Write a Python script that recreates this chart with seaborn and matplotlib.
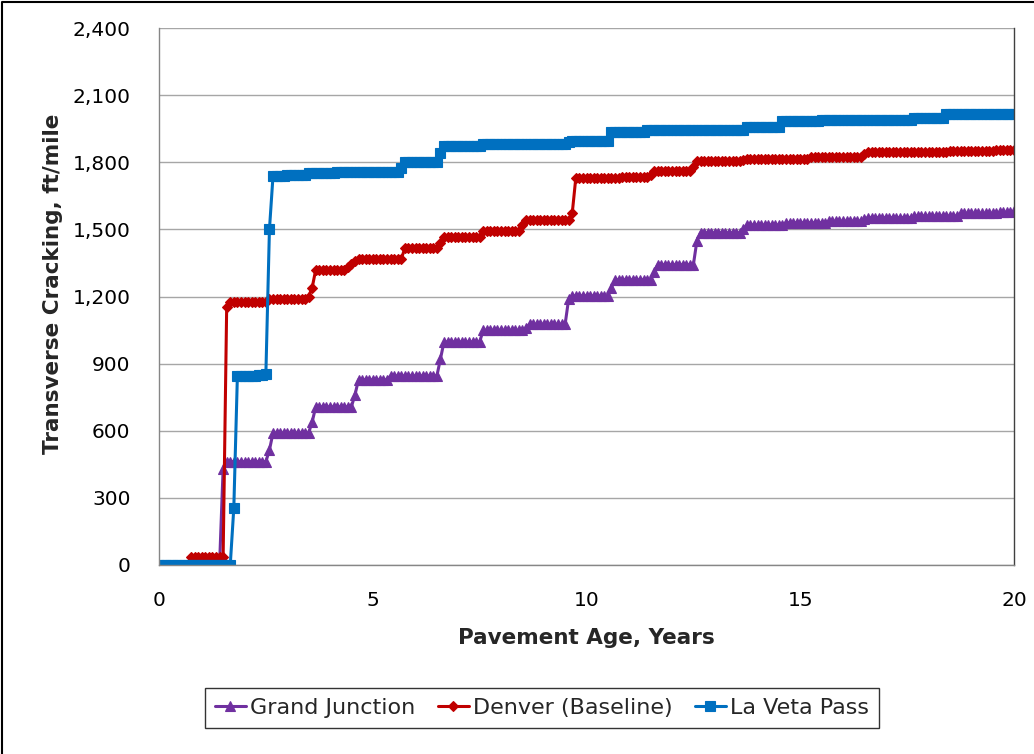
import numpy as np
import pandas as pd
import matplotlib
matplotlib.use("Agg")
import matplotlib.pyplot as plt
import seaborn as sns
from matplotlib.lines import Line2D
from matplotlib.ticker import FuncFormatter

# monthly predictions, 0-20 years; each series is written as
# (month where a level starts, level in ft/mile)
gj_start = [0, 18, 19, 31, 32, 43, 44, 55, 56, 65, 79, 80, 91, 103, 104, 115, 116,
            127, 128, 139, 140, 151, 152, 164, 165, 176, 188, 198, 199, 212, 225, 236, 240]
gj_value = [0, 430, 462, 514, 590, 640, 707, 760, 828, 845, 920, 997, 1049, 1060, 1076,
            1190, 1203, 1240, 1275, 1310, 1342, 1450, 1485, 1500, 1520, 1530, 1537, 1545,
            1553, 1560, 1572, 1576, 1580]

den_start = [0, 9, 19, 20, 31, 42, 43, 44, 53, 54, 55, 56, 69, 79, 80, 91, 102, 103, 116,
             117, 130, 138, 139, 150, 151, 164, 165, 183, 198, 199, 222, 235]
den_value = [0, 35, 1155, 1177, 1188, 1200, 1240, 1320, 1330, 1345, 1360, 1368, 1415, 1440,
             1467, 1494, 1520, 1542, 1573, 1730, 1735, 1745, 1760, 1780, 1804, 1812, 1815,
             1822, 1835, 1845, 1850, 1855]

lvp_start = [0, 21, 22, 28, 30, 31, 32, 36, 42, 50, 68, 69, 79, 80, 91, 115, 116, 127, 137,
             165, 175, 186, 212, 221]
lvp_value = [0, 255, 843, 848, 855, 1500, 1738, 1745, 1752, 1755, 1775, 1800, 1840, 1871,
             1882, 1890, 1897, 1937, 1944, 1956, 1983, 1989, 1996, 2016]

series_names = ["Grand Junction", "Denver (Baseline)", "La Veta Pass"]
colors = ["#7030A0", "#C00000", "#0070C0"]
markers = ["^", "D", "s"]
msizes = [7.0, 5.5, 7.0]

n_months = 241


def expand(starts, values):
    counts = np.diff(starts + [n_months])
    return np.repeat(values, counts)


frames = []
for name, st, vals in zip(series_names, [gj_start, den_start, lvp_start],
                          [gj_value, den_value, lvp_value]):
    frames.append(pd.DataFrame({"age": np.arange(n_months) / 12.0,
                                "crack": expand(st, vals),
                                "site": name}))
df = pd.concat(frames, ignore_index=True)

sns.set_style("white")
plt.rcParams["font.family"] = ["DejaVu Sans"]

fig = plt.figure(figsize=(10.34, 7.54), dpi=100)
ax = fig.add_axes([159 / 1034, 1 - 565 / 754, 855 / 1034, 537 / 754])

for name, c, m, ms in zip(series_names, colors, markers, msizes):
    sns.lineplot(data=df[df["site"] == name], x="age", y="crack", ax=ax,
                 color=c, marker=m, markersize=ms, markeredgewidth=0.8,
                 markeredgecolor=c, linewidth=2.2, label=name, legend=False)

ax.set_xlim(0, 20)
ax.set_ylim(0, 2400)
ax.set_xticks([0, 5, 10, 15, 20])
ax.set_yticks(np.arange(0, 2401, 300))
ax.yaxis.set_major_formatter(FuncFormatter(lambda v, p: f"{int(v):,}"))
ax.grid(axis="y", color="#A6A6A6", linewidth=1.0)
ax.set_axisbelow(True)

for s in ["left", "bottom"]:
    ax.spines[s].set_color("#868686")
    ax.spines[s].set_linewidth(1.0)
ax.spines["top"].set_visible(False)
ax.spines["right"].set_color("#404040")
ax.spines["right"].set_linewidth(1.0)

ax.tick_params(axis="both", direction="out", length=4.5, width=1, color="#868686",
               labelsize=14.5, labelcolor="black")
ax.tick_params(axis="y", pad=16)
ax.tick_params(axis="x", pad=14)

ax.set_xlabel("Pavement Age, Years", fontsize=15.5, fontweight="bold")
ax.set_ylabel("Transverse Cracking, ft/mile", fontsize=15.5, fontweight="bold")
ax.xaxis.set_label_coords(0.5, -0.118)
ax.yaxis.set_label_coords(-0.112, 0.524)

handles, labels = ax.get_legend_handles_labels()
leg = fig.legend(handles, labels, loc="center", bbox_to_anchor=(542 / 1034, 1 - 708 / 754),
                 ncol=3, frameon=True, fancybox=False, fontsize=16, handlelength=1.4,
                 handletextpad=0.2, columnspacing=1.0, borderpad=0.45)
leg.get_frame().set_edgecolor("black")
leg.get_frame().set_linewidth(1.0)

# outer frame of the picture (only its left and top edges are in view)
fig.add_artist(Line2D([0.002, 0.002, 1.0], [0.0, 0.998, 0.998], transform=fig.transFigure,
                      color="black", linewidth=1.5))

fig.savefig("out.png", dpi=100)
